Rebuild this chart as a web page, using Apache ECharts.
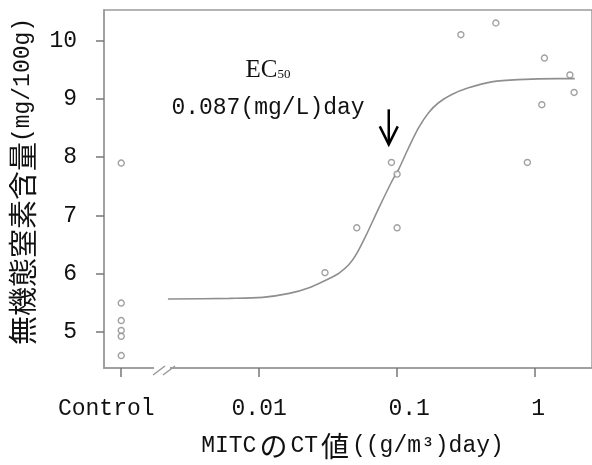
<!DOCTYPE html>
<html>
<head>
<meta charset="utf-8">
<script src="https://cdn.jsdelivr.net/npm/echarts@6/dist/echarts.min.js"></script>
<style>
    html, body { margin: 0; padding: 0; background: #fff; }
    #chart { width: 592px; height: 465px; }
</style>
</head>
<body>
<div id="chart"></div>
<script>
    // x軸の目盛り（Control は 0.001 の位置に置く）
    const tickX = [0.001, 0.01, 0.1, 1];
    const tickLabelX = ['Control', '0.01', '0.1', '1'];
    const tickY = [5, 6, 7, 8, 9, 10];
    const CONTROL_X = 0.001;

    // 対照区
    const controlY = [7.9, 5.5, 5.2, 5.03, 4.93, 4.6];
    // 処理区 CT値 と 無機態窒素含量
    const doseX = [0.030, 0.051, 0.10, 0.091, 0.10, 0.29, 0.52, 0.88, 1.12, 1.17, 1.79, 1.92];
    const doseY = [6.02, 6.79, 6.79, 7.91, 7.71, 10.1, 10.3, 7.91, 8.9, 9.7, 9.41, 9.11];
    // 回帰曲線
    const curveX = [0.00218, 0.0061, 0.01059, 0.01652, 0.02301, 0.03218, 0.03797, 0.0448, 0.05117, 0.05943, 0.07379, 0.09206,
        0.1028, 0.1214, 0.1433, 0.1692, 0.1997, 0.2492, 0.3292, 0.4853, 0.7562, 1.471, 1.941];
    const curveY = [5.568, 5.58, 5.597, 5.665, 5.762, 5.92, 6.014, 6.159, 6.355, 6.654, 7.131, 7.596,
        7.796, 8.166, 8.506, 8.762, 8.933, 9.074, 9.189, 9.291, 9.33, 9.347, 9.347];
    const EC50 = 0.087;

    const lg = function (v) { return Math.log10(v); };
    const mono = 'Liberation Mono';
    const cjk = 'Noto Sans CJK JP';

    let myChart = echarts.init(document.getElementById('chart'));
    let _option = {
        animation: false,
        grid: {
            left: 104,
            top: 10,
            right: -2,
            bottom: 95,
            show: true,
            borderColor: '#9a9a9a',
            borderWidth: 1.5
        },
        xAxis: {
            type: 'value',
            min: -3.125,
            max: 0.413,
            splitLine: { show: false },
            axisLine: { show: true, onZero: false, lineStyle: { color: '#9a9a9a', width: 1.5 } },
            axisTick: {
                show: true,
                length: 9,
                customValues: tickX.map(lg),
                lineStyle: { color: '#777', width: 1.5 }
            },
            axisLabel: {
                customValues: tickX.map(lg),
                margin: 29,
                color: '#111',
                fontFamily: mono,
                fontSize: 23,
                formatter: function (v) {
                    for (let i = 0; i < tickX.length; i++) {
                        if (Math.abs(lg(tickX[i]) - v) < 1e-6) return '{t' + i + '|' + tickLabelX[i] + '}';
                    }
                    return '';
                },
                rich: {
                    t0: { fontFamily: mono, fontSize: 23, color: '#111', padding: [0, 30, 0, 0] },
                    t1: { fontFamily: mono, fontSize: 23, color: '#111' },
                    t2: { fontFamily: mono, fontSize: 23, color: '#111', padding: [0, 0, 0, 24] },
                    t3: { fontFamily: mono, fontSize: 23, color: '#111', padding: [0, 0, 0, 6] }
                }
            },
            name: '{p|MITC}{c|の}{a|CT}{c|値}{a|((g/m³)day)}',
            nameLocation: 'middle',
            nameGap: 64,
            nameTextStyle: {
                color: '#111',
                rich: {
                    p: { fontFamily: mono, fontSize: 23, color: '#111', padding: [0, 0, 0, 9] },
                    a: { fontFamily: mono, fontSize: 23, color: '#111' },
                    c: { fontFamily: cjk, fontSize: 28, color: '#111', padding: [0, 3, 0, 3] }
                }
            }
        },
        yAxis: {
            type: 'value',
            min: 4.386,
            max: 10.523,
            splitLine: { show: false },
            axisLine: { show: true, onZero: false, lineStyle: { color: '#9a9a9a', width: 1.5 } },
            axisTick: {
                show: true,
                length: 8,
                customValues: tickY,
                lineStyle: { color: '#777', width: 1.5 }
            },
            axisLabel: {
                customValues: tickY,
                margin: 27,
                color: '#111',
                fontFamily: mono,
                fontSize: 23
            },
            name: '{a|無機態窒素含量}{b|(mg/100g)}',
            nameLocation: 'middle',
            nameRotate: 90,
            nameGap: 67,
            nameTextStyle: {
                color: '#111',
                rich: {
                    a: { fontFamily: cjk, fontSize: 29, color: '#111', padding: [0, 0, 0, 15] },
                    b: { fontFamily: mono, fontSize: 23, color: '#111' }
                }
            }
        },
        series: [
            {
                name: 'curve',
                type: 'line',
                data: curveX.map(function (x, i) { return [lg(x), curveY[i]]; }),
                showSymbol: false,
                smooth: 0.3,
                lineStyle: { color: '#8f8f8f', width: 1.6 },
                z: 2
            },
            {
                name: 'control',
                type: 'scatter',
                data: controlY.map(function (y) { return [lg(CONTROL_X), y]; }),
                symbol: 'circle',
                symbolSize: 6,
                itemStyle: { color: '#fff', borderColor: '#8a8a8a', borderWidth: 1.4 },
                z: 3
            },
            {
                name: 'dose',
                type: 'scatter',
                data: doseX.map(function (x, i) { return [lg(x), doseY[i]]; }),
                symbol: 'circle',
                symbolSize: 6,
                itemStyle: { color: '#fff', borderColor: '#8a8a8a', borderWidth: 1.4 },
                z: 3
            }
        ]
    };
    myChart.setOption(_option);

    // EC50 の矢印と注記
    let arrowTop = myChart.convertToPixel({ gridIndex: 0 }, [lg(EC50), 8.82]);
    let arrowTip = myChart.convertToPixel({ gridIndex: 0 }, [lg(EC50), 8.22]);
    myChart.setOption({
        graphic: [
            {
                type: 'line', z: 100,
                shape: { x1: arrowTop[0], y1: arrowTop[1], x2: arrowTip[0], y2: arrowTip[1] },
                style: { stroke: '#000', lineWidth: 2.5 }
            },
            {
                type: 'polyline', z: 100,
                shape: { points: [[arrowTip[0] - 9, arrowTip[1] - 18], [arrowTip[0], arrowTip[1]], [arrowTip[0] + 9, arrowTip[1] - 18]] },
                style: { stroke: '#000', lineWidth: 2.5, fill: null }
            },
            {
                type: 'text', z: 100, x: 268, y: 70,
                style: {
                    text: '{e|EC}{s|50}',
                    align: 'center', verticalAlign: 'middle',
                    rich: {
                        e: { fontFamily: 'Liberation Serif', fontSize: 25, fill: '#111' },
                        s: { fontFamily: 'Liberation Serif', fontSize: 13, fill: '#111', padding: [10, 0, 0, 0] }
                    }
                }
            },
            {
                type: 'text', z: 100, x: 268, y: 108,
                style: {
                    text: '0.087(mg/L)day',
                    align: 'center', verticalAlign: 'middle',
                    fontFamily: mono, fontSize: 23, fill: '#111'
                }
            },
            // 軸の省略記号 //
            {
                type: 'rect', z: 100,
                shape: { x: 154, y: 366, width: 16, height: 8 },
                style: { fill: '#fff' }
            },
            {
                type: 'line', z: 101,
                shape: { x1: 153, y1: 375, x2: 165, y2: 366 },
                style: { stroke: '#9a9a9a', lineWidth: 1.5 }
            },
            {
                type: 'line', z: 101,
                shape: { x1: 163, y1: 375, x2: 175, y2: 366 },
                style: { stroke: '#9a9a9a', lineWidth: 1.5 }
            }
        ]
    });
</script>
</body>
</html>
